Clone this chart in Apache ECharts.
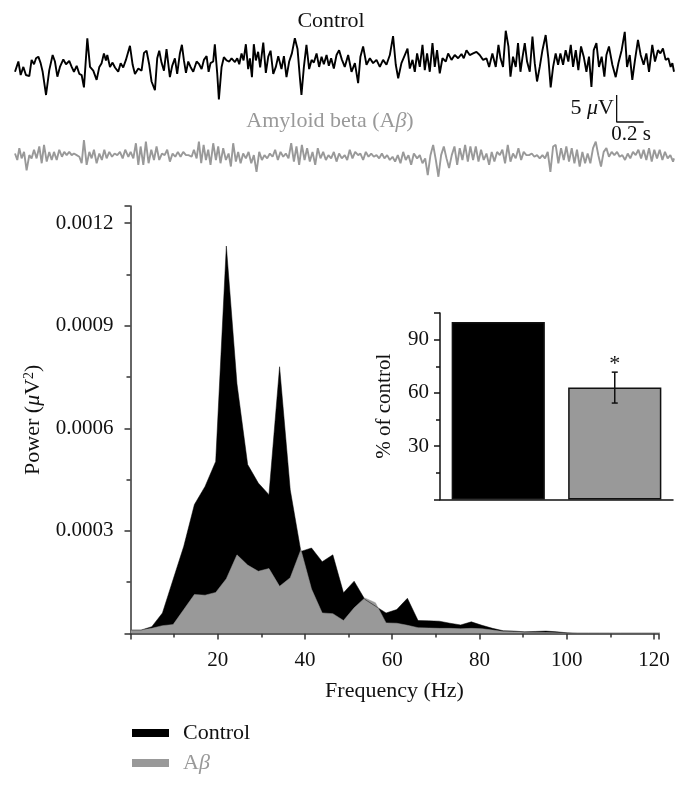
<!DOCTYPE html>
<html>
<head>
<meta charset="utf-8">
<script src="https://cdn.jsdelivr.net/npm/echarts@6/dist/echarts.min.js"></script>
<style>
  html, body { margin: 0; padding: 0; background: #fff; }
  #chart { width: 689px; height: 786px; }
</style>
</head>
<body>
<div id="chart"></div>
<script>
// ---- spectrum (power vs frequency) ----
const freqHz = [0, 2.44, 4.88, 7.32, 9.77, 12.21, 14.65, 17.09, 19.53, 21.97, 24.41, 26.86, 29.30, 31.74,
  34.18, 36.62, 39.06, 41.50, 43.95, 46.39, 48.83, 51.27, 53.71, 56.15, 58.59, 61.04, 63.48, 65.92, 68.36,
  70.80, 73.24, 75.68, 78.13, 80.57, 83.01, 85.45, 87.89, 90.33, 92.77, 95.21, 97.66, 100.10, 102.54,
  104.98, 107.42, 109.86, 112.30, 114.75, 117.19, 119.63, 122.07]
// power values in units of 1e-4 uV^2
const POW_UNIT = 1e-4
const ctrlPow = [0.1, 0.1, 0.2, 0.6, 1.58, 2.55, 3.77, 4.3, 5.03, 11.33, 7.3, 4.94, 4.4, 4.06,
  7.8, 4.2, 2.4, 2.5, 2.1, 2.3, 1.19, 1.53, 1.0, 0.8, 0.6, 0.7, 1.03, 0.38, 0.37,
  0.36, 0.3, 0.25, 0.34, 0.24, 0.15, 0.08, 0.07, 0.05, 0.06, 0.07, 0.05, 0.02, 0.01,
  0.01, 0.01, 0.01, 0.01, 0.01, 0.01, 0.01, 0.01]
const abPow = [0.1, 0.1, 0.15, 0.23, 0.26, 0.7, 1.14, 1.12, 1.2, 1.6, 2.3, 2.0, 1.82, 1.9,
  1.38, 1.63, 2.45, 1.3, 0.6, 0.58, 0.38, 0.75, 1.04, 0.9, 0.31, 0.3, 0.24, 0.17, 0.16,
  0.15, 0.15, 0.14, 0.15, 0.14, 0.1, 0.06, 0.05, 0.04, 0.03, 0.03, 0.02, 0.01, 0.01,
  0.01, 0.01, 0.01, 0.01, 0.01, 0.01, 0.01, 0.01]
const freqTicks = [20, 40, 60, 80, 100, 120]

// ---- inset: % of control ----
const insetCats = ['Control', 'Aβ']
const insetPct = [100, 63]
const insetErr = [0, 8.7]
const insetSig = ['', '*']

// ---- raw traces (time in s, amplitude in uV) ----
const ctrlTime = [0, 0.025, 0.042, 0.062, 0.081, 0.106, 0.123, 0.141, 0.156, 0.173, 0.190, 0.205, 0.230, 0.254,
  0.279, 0.296, 0.314, 0.333, 0.358, 0.378, 0.402, 0.420, 0.437, 0.457, 0.477, 0.494, 0.511, 0.536, 0.556,
  0.580, 0.605, 0.625, 0.642, 0.659, 0.674, 0.684, 0.704, 0.723, 0.741, 0.765, 0.783, 0.802, 0.822, 0.852,
  0.872, 0.889, 0.914, 0.938, 0.956, 0.975, 0.995, 1.012, 1.037, 1.054, 1.069, 1.086, 1.104, 1.123, 1.148,
  1.165, 1.185, 1.202, 1.222, 1.237, 1.252, 1.267, 1.284, 1.301, 1.321, 1.346, 1.365, 1.383, 1.400, 1.420,
  1.435, 1.449, 1.469, 1.481, 1.499, 1.511, 1.531, 1.548, 1.568, 1.588, 1.605, 1.630, 1.647, 1.662, 1.679,
  1.694, 1.711, 1.728, 1.741, 1.756, 1.770, 1.785, 1.802, 1.817, 1.840, 1.859, 1.877, 1.894, 1.914, 1.933,
  1.951, 1.975, 1.993, 2.012, 2.032, 2.052, 2.074, 2.094, 2.111, 2.123, 2.141, 2.160, 2.180, 2.198, 2.215,
  2.235, 2.254, 2.272, 2.289, 2.309, 2.326, 2.343, 2.363, 2.383, 2.402, 2.422, 2.444,
  2.469, 2.494, 2.519, 2.543, 2.560, 2.580, 2.605, 2.630, 2.654, 2.679, 2.704, 2.728, 2.753, 2.778, 2.802,
  2.822, 2.840, 2.864, 2.889, 2.909, 2.926, 2.946, 2.963, 2.980, 3.000, 3.020, 3.037, 3.054, 3.074, 3.094,
  3.111, 3.128, 3.148, 3.168, 3.193, 3.210, 3.235, 3.259, 3.284, 3.309, 3.326, 3.346, 3.370, 3.395, 3.420,
  3.444, 3.469, 3.494, 3.514, 3.538, 3.563, 3.583, 3.598, 3.617, 3.637, 3.657, 3.672, 3.691, 3.711, 3.728,
  3.746, 3.760, 3.778, 3.795, 3.815, 3.835, 3.852, 3.869, 3.889, 3.909, 3.933, 3.953, 3.970, 3.988, 4.007,
  4.025, 4.042, 4.062, 4.081, 4.101, 4.119, 4.136, 4.156, 4.175, 4.195, 4.215, 4.235, 4.254, 4.272, 4.289,
  4.309, 4.328, 4.348, 4.368, 4.383, 4.402, 4.427, 4.452, 4.472, 4.496, 4.519, 4.536, 4.556, 4.575, 4.595,
  4.617, 4.637, 4.659, 4.679, 4.699, 4.723, 4.743, 4.765, 4.783, 4.802, 4.822, 4.842, 4.859, 4.872, 4.884]
const ctrlUv = [-0.7, 1.2, -1.3, 0.2, -1.3, -1.5, 1.5, 0.7, 1.8, 2.1, 0.9, -0.7, -5.0, -0.4,
  2.4, 1.2, -1.6, 0.2, 1.6, 0.7, 1.3, 0.2, -0.7, 0.4, -1.1, -1.3, -3.6, 5.5, 0.2,
  -0.5, -2.2, 0.2, 0.9, 2.7, 1.4, 2.4, 0.2, 1.0, 0.1, -0.7, 0.9, 0.1, 1.5, 4.1,
  0.6, -1.1, -0.1, -0.5, 2.8, 3.2, 0.6, -2.5, -4.1, 1.8, 3.2, 1.0, -0.5, 3.5, -1.7,
  0.4, 1.8, -1.1, 2.7, 4.3, 1.4, -0.9, 1.2, 0.2, -0.7, 1.2, 0.7, -0.2, 1.5, 2.2,
  -0.7, 0.9, 1.2, 4.4, -1.1, -5.8, 0.2, 2.0, 1.4, 1.2, 1.8, 1.1, 1.8, 0.7, 2.7,
  1.4, 4.4, -0.2, 1.8, -1.7, 4.4, 1.4, 3.0, 0.1, 4.7, -0.9, 2.1, 3.2, -1.1, 0.2,
  2.2, -0.2, 2.2, -1.7, 1.2, 2.7, 5.5, 3.5, -1.7, -5.0, 0.2, 4.3, -0.2, 1.5, 1.0,
  2.7, 0.2, 2.1, 0.7, 2.4, 0.4, 1.8, -0.1, 2.4, 3.3, 1.6, 0.2,
  2.4, -0.7, 0.9, -2.8, 2.1, 4.0, 0.6, 1.8, 0.9, 1.5, 0.2, 1.5, 0.6, 2.4, 5.9,
  0.6, -1.9, 0.9, 2.4, 3.6, -0.1, 1.5, -0.7, 2.7, 0.2, 4.3, -0.4, 2.7, -0.7, 4.6,
  0.2, 3.3, -1.0, 1.8, 1.2, 2.7, 1.5, 2.4, 1.8, 2.6, 1.8, 3.3, 2.4, 2.7, 3.0,
  2.4, 1.5, 1.8, 0.2, 2.7, 0.2, 4.3, 1.8, 0.2, 6.9, 4.0, -1.6, 2.1, 0.2, 4.6,
  -0.7, 1.8, 4.6, 1.2, -0.7, 5.8, 0.9, -2.5, 0.2, 3.3, 6.1, 1.8, -3.6, 0.2, 2.7,
  0.6, 2.7, 0.6, 3.3, 1.2, 4.3, 0.2, 3.3, -0.4, 4.0, 2.1, -0.7, 2.1, -3.5, 3.3,
  4.6, 0.2, 2.1, -1.6, 2.4, 4.0, 0.6, -1.7, 0.9, 3.3, 6.7, 0.2, 2.4, -2.2, 1.5,
  5.2, 2.4, 0.6, 2.7, -0.7, 4.3, 1.2, 3.3, 2.7, 3.6, 1.5, 1.8, 0.2, 0.9, -0.7]

const abTime = [0, 0.017, 0.032, 0.049, 0.067, 0.086, 0.106, 0.123, 0.141, 0.160, 0.180, 0.198, 0.215, 0.235,
  0.254, 0.272, 0.289, 0.309, 0.328, 0.348, 0.365, 0.383, 0.402, 0.420, 0.437, 0.457, 0.477, 0.494, 0.511,
  0.531, 0.551, 0.568, 0.585, 0.605, 0.625, 0.644, 0.662, 0.679, 0.699, 0.719, 0.738, 0.758, 0.778, 0.798,
  0.817, 0.840, 0.857, 0.877, 0.896, 0.914, 0.931, 0.951, 0.970, 0.990, 1.010, 1.030, 1.049, 1.069, 1.089,
  1.109, 1.128, 1.148, 1.168, 1.188, 1.207, 1.227, 1.247, 1.267, 1.286, 1.309, 1.326, 1.346, 1.363, 1.380,
  1.398, 1.415, 1.432, 1.449, 1.469, 1.489, 1.506, 1.523, 1.543, 1.563, 1.583, 1.600, 1.617, 1.637, 1.654,
  1.672, 1.691, 1.711, 1.731, 1.751, 1.770, 1.790, 1.810, 1.830, 1.849, 1.869, 1.889, 1.909, 1.928, 1.948,
  1.968, 1.988, 2.007, 2.027, 2.047, 2.067, 2.086, 2.106, 2.126, 2.146, 2.165, 2.185, 2.205, 2.225, 2.244,
  2.264, 2.284, 2.304, 2.323, 2.343, 2.363, 2.383, 2.402, 2.422, 2.444,
  2.462, 2.481, 2.501, 2.521, 2.543, 2.560, 2.580, 2.600, 2.620, 2.640, 2.659, 2.679, 2.699, 2.719, 2.738,
  2.758, 2.778, 2.798, 2.817, 2.837, 2.857, 2.877, 2.896, 2.916, 2.936, 2.956, 2.980, 3.000, 3.020, 3.040,
  3.059, 3.079, 3.099, 3.119, 3.138, 3.158, 3.178, 3.198, 3.217, 3.237, 3.257, 3.277, 3.296, 3.316, 3.336,
  3.356, 3.375, 3.395, 3.415, 3.435, 3.454, 3.474, 3.494, 3.514, 3.533, 3.553, 3.573, 3.593, 3.612, 3.632,
  3.652, 3.672, 3.691, 3.711, 3.731, 3.751, 3.770, 3.790, 3.810, 3.830, 3.849, 3.869, 3.889, 3.909, 3.928,
  3.948, 3.968, 3.988, 4.007, 4.027, 4.047, 4.067, 4.086, 4.106, 4.126, 4.146, 4.165, 4.185, 4.205, 4.225,
  4.244, 4.264, 4.284, 4.304, 4.323, 4.343, 4.363, 4.383, 4.402, 4.422, 4.442, 4.462, 4.481, 4.501, 4.521,
  4.541, 4.560, 4.580, 4.600, 4.620, 4.640, 4.659, 4.679, 4.699, 4.719, 4.738, 4.758, 4.778, 4.798, 4.817,
  4.837, 4.857, 4.877, 4.884]
const abUv = [1.2, 0, 2.2, 0.3, 1.5, -1.9, 0.9, 0.3, 1.9, 0.3, 2.5, -0.6, 2.8, -0.3,
  1.5, 0, 1.5, 0, 1.9, 0.6, 1.5, 0.9, 1.5, 0.9, 1.2, 0.9, 0.6, -0.6, 3.7,
  -0.9, 1.5, 0.3, 1.9, -0.6, 1.2, 0, 1.9, 0.3, 1.5, 0.6, 1.2, 0.9, 1.5, 0.3,
  1.9, 0.6, 1.5, 0.3, 3.1, -0.9, 2.5, -0.9, 3.4, -0.6, 1.9, 0, 2.5, 0, 1.2,
  0.9, 1.9, -0.3, 1.2, 0.6, 1.5, 0.6, 1.5, 0.9, 0.9, 0.6, 1.9, 0.3, 3.4, -0.6,
  2.8, 0, 1.9, -0.9, 3.1, 0, 2.5, -0.6, 2.2, 0, 1.2, -1.2, 3.1, -0.3, 1.5,
  -0.6, 1.2, 0.3, 1.5, -0.6, 0.9, -2.2, 1.5, 0, 0.9, 0.3, 1.2, 0.6, 1.9, 0,
  1.5, 0.6, 1.2, 0.3, 3.1, -0.3, 2.5, -0.9, 2.8, 0, 2.2, -0.3, 1.5, -0.9, 2.2,
  0.3, 1.5, 0, 0.9, 0.3, 1.5, -0.3, 1.2, 0.3, 0.9,
  0, 1.9, 0.3, 1.5, 0.9, 1.2, 0, 1.5, 0.6, 1.2, 0.6, 0.9, 0.3, 1.2, 0.3,
  0.9, 0, 0.6, -0.3, 0.9, -0.6, 1.5, 0, 0.9, -0.9, 1.2, 0.3, 0.9, -0.6, 0.3,
  -2.8, 0.9, 2.8, 0, -3.1, 0.9, 2.5, 0.3, -1.5, 0.9, 2.5, -0.9, 2.2, 0, 2.8,
  -0.3, 2.5, 0, 2.5, -0.3, 1.9, 0, 1.2, -0.9, 1.5, -0.3, 1.5, 0.9, 1.9, -0.6,
  2.8, -0.3, 1.2, 0.3, 2.2, 0, 1.5, 0.9, 0.9, 1.2, 0.6, 0.9, 0.3, 0.9, 0.3,
  1.5, -2.2, 2.5, 2.8, -0.6, 2.2, 0, 2.5, -0.3, 2.2, -0.6, 1.9, -1.2, 1.5, -0.6,
  1.2, -0.6, 2.2, 3.4, 0.9, -1.2, 1.5, 2.2, 0.6, 1.5, 0.9, 1.5, 0.6, 0.9, 0,
  1.2, 0.3, 1.5, 0.9, 1.9, 0.3, 1.9, 0, 2.2, -0.3, 1.9, 0.3, 1.9, 0, 1.5,
  0.3, 0.9, -0.3, 0.3]

// scale bar sizes
const SCALE_UV = 5
const SCALE_S = 0.2

const FONT = 'Liberation Serif'
const GREY = '#999999'
const AXIS = '#333333'

const chart = echarts.init(document.getElementById('chart'))

const toPairs = (xs, ys) => xs.map((x, i) => [x, ys[i]])
const scaleCorner = [4.459, -10]

const option = {
  animation: false,
  textStyle: { fontFamily: FONT },
  grid: [
    { left: 130.5, right: 30.7, top: 206, bottom: 152.5 },
    { left: 440, right: 16, top: 313, bottom: 286.5 },
    { left: 15, width: 659, top: 30.2, height: 75.6 },
    { left: 15, width: 659, top: 122.2, height: 75.6 }
  ],
  legend: {
    orient: 'vertical',
    left: 127,
    top: 717,
    itemWidth: 37,
    itemHeight: 8,
    itemGap: 8,
    icon: 'rect',
    data: [
      { name: 'Control', itemStyle: { color: '#000' }, textStyle: { color: '#111' } },
      { name: 'Aβ', itemStyle: { color: GREY }, textStyle: { color: GREY } }
    ],
    formatter: name => name === 'Aβ' ? 'A{i|β}' : name,
    textStyle: {
      fontFamily: FONT,
      fontSize: 22,
      padding: [0, 0, 0, 9],
      rich: { i: { fontStyle: 'italic', fontFamily: FONT, fontSize: 22 } }
    }
  },
  xAxis: [{
    gridIndex: 0,
    type: 'value',
    min: 0,
    max: 121,
    interval: 20,
    name: 'Frequency (Hz)',
    nameLocation: 'middle',
    nameGap: 47,
    nameTextStyle: { fontFamily: FONT, fontSize: 22, color: '#111' },
    axisLine: { lineStyle: { color: AXIS, width: 1.5 } },
    axisTick: { inside: false, length: 6, lineStyle: { color: AXIS, width: 1.5 } },
    minorTick: { show: true, splitNumber: 2, length: 4, lineStyle: { color: AXIS, width: 1.5 } },
    splitLine: { show: false },
    axisLabel: {
      showMinLabel: false,
      showMaxLabel: false,
      margin: 16,
      fontFamily: FONT,
      fontSize: 21,
      color: '#111',
      formatter: v => freqTicks.includes(v) ? String(v) : ''
    }
  }, {
    gridIndex: 1,
    type: 'category',
    data: insetCats,
    axisLine: { lineStyle: { color: '#111', width: 1.5 } },
    axisTick: { show: false },
    axisLabel: { show: false }
  }, {
    gridIndex: 2, type: 'value', min: 0, max: 4.884, show: false
  }, {
    gridIndex: 3, type: 'value', min: 0, max: 4.884, show: false
  }],
  yAxis: [{
    gridIndex: 0,
    type: 'value',
    min: 0,
    max: 0.00125,
    interval: 0.0003,
    name: 'Power ({i|μ}V{s|2})',
    nameLocation: 'middle',
    nameGap: 86,
    nameTextStyle: {
      fontFamily: FONT, fontSize: 22, color: '#111',
      rich: {
        i: { fontStyle: 'italic', fontFamily: FONT, fontSize: 22, color: '#111' },
        s: { fontFamily: FONT, fontSize: 14, color: '#111', verticalAlign: 'top' }
      }
    },
    axisLine: { show: true, lineStyle: { color: AXIS, width: 1.5 } },
    axisTick: { show: true, length: 6, lineStyle: { color: AXIS, width: 1.5 } },
    minorTick: { show: true, splitNumber: 2, length: 4, lineStyle: { color: AXIS, width: 1.5 } },
    splitLine: { show: false },
    axisLabel: {
      showMinLabel: false,
      showMaxLabel: false,
      margin: 17,
      fontFamily: FONT,
      fontSize: 21,
      color: '#111',
      formatter: v => v.toFixed(4)
    }
  }, {
    gridIndex: 1,
    type: 'value',
    min: 0,
    max: 105,
    interval: 30,
    name: '% of control',
    nameLocation: 'middle',
    nameGap: 45,
    nameTextStyle: { fontFamily: FONT, fontSize: 21, color: '#111' },
    axisLine: { show: true, lineStyle: { color: '#111', width: 1.5 } },
    axisTick: { show: true, length: 6, lineStyle: { color: '#111', width: 1.5 } },
    minorTick: { show: true, splitNumber: 2, length: 4, lineStyle: { color: '#111', width: 1.5 } },
    splitLine: { show: false },
    axisLabel: {
      showMinLabel: false,
      showMaxLabel: false,
      margin: 11,
      fontFamily: FONT,
      fontSize: 21,
      color: '#111'
    }
  }, {
    gridIndex: 2, type: 'value', min: -7, max: 7, show: false
  }, {
    gridIndex: 3, type: 'value', min: -7, max: 7, show: false
  }],
  series: [{
    name: 'Control',
    type: 'line',
    xAxisIndex: 0,
    yAxisIndex: 0,
    data: freqHz.map((f, i) => [f, ctrlPow[i] * POW_UNIT]),
    showSymbol: false,
    lineStyle: { color: '#000', width: 0.5 },
    itemStyle: { color: '#000' },
    areaStyle: { color: '#000', opacity: 1 }
  }, {
    name: 'Aβ',
    type: 'line',
    xAxisIndex: 0,
    yAxisIndex: 0,
    data: freqHz.map((f, i) => [f, abPow[i] * POW_UNIT]),
    showSymbol: false,
    lineStyle: { color: GREY, width: 0.5 },
    itemStyle: { color: GREY },
    areaStyle: { color: GREY, opacity: 1 }
  }, {
    name: 'pct',
    type: 'bar',
    xAxisIndex: 1,
    yAxisIndex: 1,
    barCategoryGap: '20%',
    data: insetPct.map((v, i) => ({
      value: v,
      itemStyle: {
        color: i === 0 ? '#000' : GREY,
        borderColor: '#111',
        borderWidth: 1.5
      }
    }))
  }, {
    name: 'err',
    type: 'custom',
    xAxisIndex: 1,
    yAxisIndex: 1,
    z: 5,
    data: insetPct.map((v, i) => [i, v, insetErr[i]]),
    renderItem: (params, api) => {
      const i = api.value(0)
      const m = api.value(1)
      const e = api.value(2)
      if (!e) return null
      const top = api.coord([i, m + e])
      const bot = api.coord([i, m - e])
      const st = { stroke: '#111', lineWidth: 1.5 }
      return {
        type: 'group',
        children: [
          { type: 'line', shape: { x1: top[0], y1: top[1], x2: bot[0], y2: bot[1] }, style: st },
          { type: 'line', shape: { x1: top[0] - 3, y1: top[1], x2: top[0] + 3, y2: top[1] }, style: st },
          { type: 'line', shape: { x1: bot[0] - 3, y1: bot[1], x2: bot[0] + 3, y2: bot[1] }, style: st },
          {
            type: 'text',
            x: top[0],
            y: top[1] + 3,
            style: {
              text: insetSig[params.dataIndex],
              fill: '#111',
              font: '22px ' + FONT,
              align: 'center',
              verticalAlign: 'bottom'
            }
          }
        ]
      }
    }
  }, {
    name: 'ctrlTrace',
    type: 'line',
    xAxisIndex: 2,
    yAxisIndex: 2,
    data: toPairs(ctrlTime, ctrlUv),
    showSymbol: false,
    clip: false,
    lineStyle: { color: '#000', width: 1.9 }
  }, {
    name: 'abTrace',
    type: 'line',
    xAxisIndex: 3,
    yAxisIndex: 3,
    data: toPairs(abTime, abUv),
    showSymbol: false,
    clip: false,
    lineStyle: { color: GREY, width: 1.9 }
  }, {
    name: 'scaleBar',
    type: 'line',
    xAxisIndex: 2,
    yAxisIndex: 2,
    clip: false,
    showSymbol: false,
    data: [
      [scaleCorner[0], scaleCorner[1] + SCALE_UV],
      scaleCorner,
      [scaleCorner[0] + SCALE_S, scaleCorner[1]]
    ],
    lineStyle: { color: '#111', width: 1.3 }
  }],
  graphic: [{
    type: 'text', x: 331, y: 21,
    style: { text: 'Control', font: '22px ' + FONT, fill: '#111', align: 'center', verticalAlign: 'middle' }
  }, {
    type: 'text', x: 330, y: 121,
    style: {
      text: 'Amyloid beta (A{i|β})', font: '22px ' + FONT, fill: GREY, align: 'center', verticalAlign: 'middle',
      rich: { i: { fontStyle: 'italic', fontFamily: FONT, fontSize: 22, fill: GREY } }
    }
  }, {
    type: 'text', x: 614, y: 108,
    style: {
      text: '5 {i|μ}V', font: '22px ' + FONT, fill: '#111', align: 'right', verticalAlign: 'middle',
      rich: { i: { fontStyle: 'italic', fontFamily: FONT, fontSize: 22, fill: '#111' } }
    }
  }, {
    type: 'text', x: 631, y: 134,
    style: { text: '0.2 s', font: '21px ' + FONT, fill: '#111', align: 'center', verticalAlign: 'middle' }
  }]
}

chart.setOption(option)
</script>
</body>
</html>
